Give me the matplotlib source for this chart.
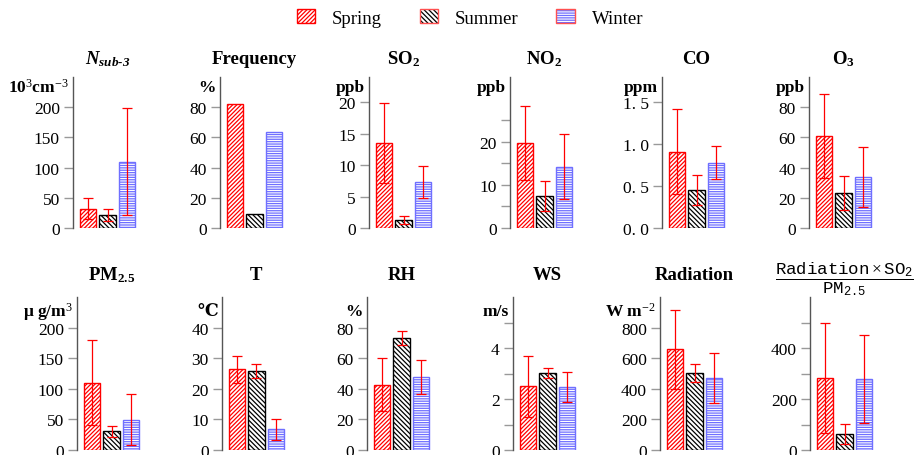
import matplotlib
matplotlib.use('Agg')
import matplotlib.pyplot as plt
import numpy as np
from matplotlib.patches import Patch
from matplotlib.legend_handler import HandlerTuple

plt.rcParams['font.family'] = ['Liberation Serif', 'DejaVu Serif', 'DejaVu Sans']
plt.rcParams['mathtext.fontset'] = 'custom'
plt.rcParams['mathtext.rm'] = 'Liberation Serif'
plt.rcParams['mathtext.it'] = 'Liberation Serif:italic'
plt.rcParams['mathtext.bf'] = 'Liberation Serif:bold'
plt.rcParams['mathtext.bfit'] = 'Liberation Serif:italic:bold'
plt.rcParams['mathtext.tt'] = 'Liberation Mono'
plt.rcParams['hatch.linewidth'] = 0.9

# values (mean, +- error)
titles = [r'$\mathbfit{N}_{\mathbfit{sub‐3}}$', 'Frequency', r'$\mathbf{SO_2}$', r'$\mathbf{NO_2}$', 'CO', r'$\mathbf{O_3}$',
          r'$\mathbf{PM_{2.5}}$', 'T', 'RH', 'WS', 'Radiation',
          r'$\dfrac{\mathtt{Radiation}\times\mathtt{SO_2}}{\mathtt{PM_{2.5}}}$']
units = [r'10$^3$cm$^{-3}$', '%', 'ppb', 'ppb', 'ppm', 'ppb',
         r'μ g/m$^3$', '℃', '%', 'm/s', r'W m$^{-2}$', '']
spring_mean = [32, 82, 13.5, 19.7, 0.91, 61, 110, 26.4, 42.8, 2.5, 658, 282]
summer_mean = [21.4, 9.6, 1.26, 7.4, 0.45, 23.2, 31, 25.7, 73.2, 3.02, 503, 64]
winter_mean = [110, 63.8, 7.3, 14.2, 0.78, 33.8, 49.7, 6.8, 47.6, 2.47, 470, 279]
spring_err = [17, None, 6.3, 8.5, 0.51, 28, 69, 4.4, 17.3, 1.2, 260, 216]
summer_err = [10.5, None, 0.6, 3.5, 0.18, 11.3, 9, 2.3, 4.5, 0.2, 58, 39]
winter_err = [89, None, 2.5, 7.5, 0.2, 19.7, 41, 3.4, 11, 0.58, 163, 172]
ytops = [250, 100, 24, 35, 1.8, 100, 250, 50, 100, 6, 1000, 600]
yticks = [[0, 50, 100, 150, 200], [0, 20, 40, 60, 80], [0, 5, 10, 15, 20],
          [0, 5, 10, 15, 20, 25], [0, 0.5, 1.0, 1.5], [0, 20, 40, 60, 80],
          [0, 50, 100, 150, 200], [0, 10, 20, 30, 40], [0, 20, 40, 60, 80],
          [0, 1, 2, 3, 4, 5], [0, 200, 400, 600, 800], [0, 100, 200, 300, 400, 500]]
yticklabels = [None, None, None, ['0', '', '10', '', '20', ''], ['0. 0', '0. 5', '1. 0', '1. 5'], None,
               None, None, None, ['0', '', '2', '', '4', ''], None, ['0', '', '200', '', '400', '']]
seasons = ['Spring', 'Summer', 'Winter']

W, H = 914, 456
fig = plt.figure(figsize=(W / 100, H / 100), dpi=100)

lefts = [[73, 220, 369, 510, 662, 809], [77, 222, 367, 513, 660, 810]]
rows = [(78, 229), (298, 451)]
aw = 69

styles = [dict(edgecolor='red', hatch='////////'),
          dict(edgecolor='black', hatch='\\\\\\\\\\\\\\'),
          dict(edgecolor='#6f6fff', hatch='-------')]

for i in range(12):
    r, c = divmod(i, 6)
    top, bot = rows[r]
    ax = fig.add_axes([lefts[r][c] / W, 1 - bot / H, aw / W, (bot - top) / H])
    means = [spring_mean[i], summer_mean[i], winter_mean[i]]
    errs = [spring_err[i], summer_err[i], winter_err[i]]
    for k in range(3):
        ax.bar(k, means[k], width=0.84, facecolor='white', linewidth=1.0, zorder=2, **styles[k])
        if errs[k] is not None:
            ax.errorbar(k, means[k], yerr=errs[k], color='red', lw=0.9, capsize=3.5,
                        capthick=0.9, zorder=3)
    ax.set_xlim(-0.76, 2.76)
    ax.set_ylim(0, ytops[i])
    ax.set_yticks(yticks[i])
    if yticklabels[i] is not None:
        ax.set_yticklabels(yticklabels[i])
    ax.set_xticks([])
    for s in ['top', 'right', 'bottom']:
        ax.spines[s].set_visible(False)
    ax.spines['left'].set_color('#555555')
    ax.spines['left'].set_linewidth(1.0)
    ax.tick_params(axis='y', length=6.5, width=1, color='#999999', pad=3, labelsize=12.5)
    if i == 11:
        ax.set_title(titles[i], fontsize=12.5, pad=4)
    else:
        ax.set_title(titles[i], fontsize=13.5, fontweight='bold', pad=10 if r == 0 else 13)
    if units[i]:
        ax.text(-0.06, 0.935 if r == 0 else 0.91, units[i], transform=ax.transAxes,
                ha='right', va='center', fontsize=12.5, fontweight='bold')

handles = [
    (Patch(facecolor='white', lw=0, **styles[0]), Patch(fill=False, edgecolor='red', lw=1)),
    (Patch(facecolor='white', lw=0, **styles[1]), Patch(fill=False, edgecolor='#ff5050', lw=1)),
    (Patch(facecolor='white', lw=0, **styles[2]), Patch(fill=False, edgecolor='#ff5050', lw=1)),
]
fig.legend(handles, seasons, loc='center', bbox_to_anchor=(470 / W, 1 - 19 / H), ncol=3,
           frameon=False, fontsize=13.5, handlelength=1.0, handleheight=0.7,
           handletextpad=0.9, columnspacing=2.0,
           handler_map={tuple: HandlerTuple(ndivide=1)})

fig.savefig('out.png', dpi=100)
